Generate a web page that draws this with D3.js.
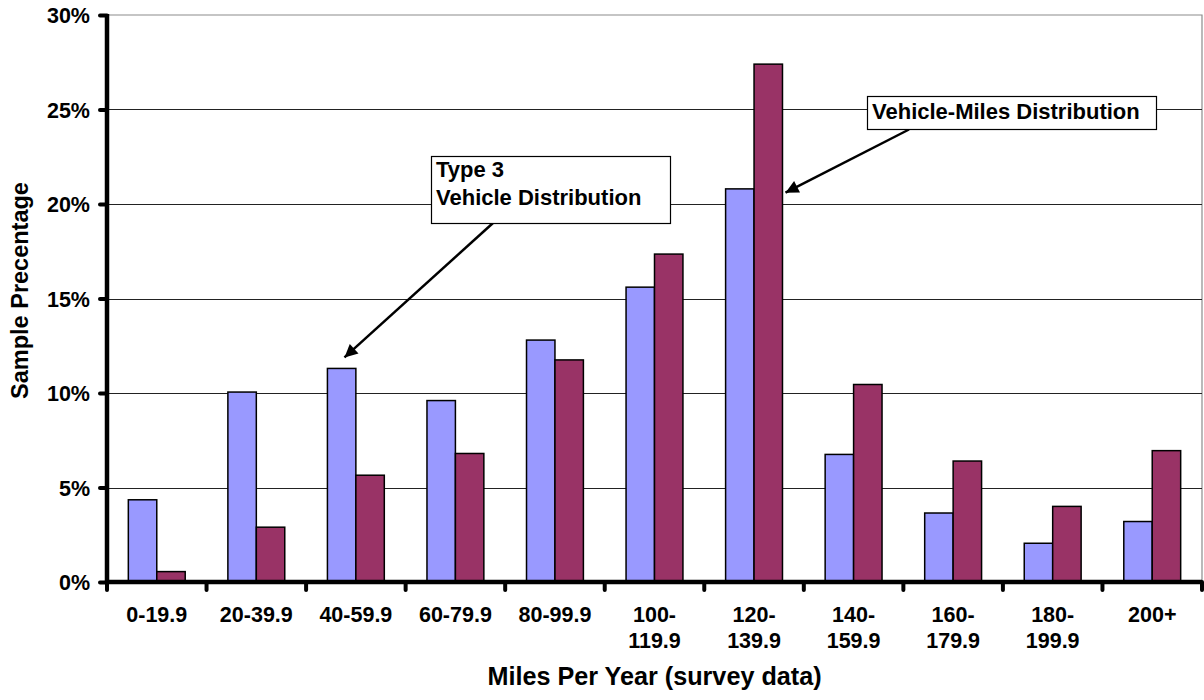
<!DOCTYPE html>
<html>
<head>
<meta charset="utf-8">
<script src="https://cdn.jsdelivr.net/npm/d3@7"></script>
<style>
  html, body { margin: 0; padding: 0; background: #fff; }
  svg { display: block; }
  text { font-family: "Liberation Sans", Arial, sans-serif; font-weight: bold; fill: #000; }
</style>
</head>
<body>
<svg id="chart" width="1204" height="700"></svg>
<script>
const categories = ["0-19.9", "20-39.9", "40-59.9", "60-79.9", "80-99.9", "100-\n119.9", "120-\n139.9", "140-\n159.9", "160-\n179.9", "180-\n199.9", "200+"];
const seriesNames = ["Type 3 Vehicle Distribution", "Vehicle-Miles Distribution"];
const vehicleDist = [4.35, 10.05, 11.3, 9.6, 12.8, 15.6, 20.8, 6.75, 3.65, 2.05, 3.2];
const vehicleMilesDist = [0.55, 2.9, 5.65, 6.8, 11.75, 17.35, 27.4, 10.45, 6.4, 4.0, 6.95];
const yTicks = [0, 5, 10, 15, 20, 25, 30];
const colors = ["#9999FF", "#993366"];

(function () {
const svg = d3.select("#chart");
const pL = 107, pR = 1202, pT = 15, pB = 582;

const x = d3.scaleBand().domain(categories).range([pL, pR]).padding(0);
const groupW = x.bandwidth() / 3.5 * 2;
const x1 = d3.scaleBand().domain([0, 1]).range([(x.bandwidth() - groupW) / 2, (x.bandwidth() + groupW) / 2]).padding(0);
const y = d3.scaleLinear().domain([0, 30]).range([pB, pT]);

// plot border (top & right)
svg.append("path")
  .attr("d", `M${pL},${pT}H${pR}V${pB}`)
  .attr("fill", "none").attr("stroke", "#8c8c8c").attr("stroke-width", 1.2);

// gridlines
svg.append("g").selectAll("line")
  .data(yTicks.filter(d => d > 0 && d < 30))
  .join("line")
  .attr("x1", pL).attr("x2", pR)
  .attr("y1", d => Math.round(y(d)) + 0.5).attr("y2", d => Math.round(y(d)) + 0.5)
  .attr("stroke", "#222").attr("stroke-width", 1);

// bars
const data = categories.map((c, i) => ({ c, vals: [vehicleDist[i], vehicleMilesDist[i]] }));
const groups = svg.append("g").selectAll("g").data(data).join("g")
  .attr("transform", d => `translate(${x(d.c)},0)`);
groups.selectAll("rect").data(d => d.vals.map((v, k) => ({ v, k })))
  .join("rect")
  .attr("x", d => x1(d.k))
  .attr("width", x1.bandwidth())
  .attr("y", d => y(d.v))
  .attr("height", d => y(0) - y(d.v))
  .attr("fill", d => colors[d.k])
  .attr("stroke", "#000").attr("stroke-width", 1.5);

// y axis
const yAxis = d3.axisLeft(y).tickValues(yTicks).tickFormat(d => d + "%").tickSize(7).tickPadding(10);
const gy = svg.append("g").attr("transform", `translate(${pL},0)`).call(yAxis);
gy.select(".domain").attr("stroke", "#000").attr("stroke-width", 4.5).attr("d", `M0,${pT - 1}V${pB + 2}`);
gy.selectAll(".tick line").attr("stroke", "#000").attr("stroke-width", 4).attr("stroke-linecap", "round");
gy.selectAll(".tick text").style("font-size", "21.5px").attr("dy", "0.36em");

// x axis: labels
const xAxis = d3.axisBottom(x).tickSize(0).tickPadding(0).tickFormat("");
const gx = svg.append("g").attr("transform", `translate(0,${pB})`).call(xAxis);
gx.select(".domain").attr("stroke", "#000").attr("stroke-width", 4.5).attr("d", `M${pL - 2},0H${pR}`);
gx.selectAll(".tick").each(function (d) {
  const t = d3.select(this).append("text").attr("text-anchor", "middle").style("font-size", "21.5px");
  d.split("\n").forEach((line, i) => {
    t.append("tspan").attr("x", 0).attr("y", 40 + i * 26).text(line);
  });
});
// x axis boundary ticks
const bounds = categories.map(c => x(c)).concat([x(categories[categories.length - 1]) + x.bandwidth()]);
gx.append("g").selectAll("line").data(bounds).join("line")
  .attr("x1", d => d).attr("x2", d => d).attr("y1", 0).attr("y2", 8)
  .attr("stroke", "#000").attr("stroke-width", 4).attr("stroke-linecap", "round");

// axis titles
svg.append("text").attr("x", (pL + pR) / 2).attr("y", 685)
  .attr("text-anchor", "middle").style("font-size", "25.2px")
  .text("Miles Per Year (survey data)");
svg.append("text").attr("transform", `translate(28,${(pT + pB) / 2 - 8}) rotate(-90)`)
  .attr("text-anchor", "middle").style("font-size", "23.5px")
  .text("Sample Precentage");

// arrow marker
svg.append("defs").append("marker")
  .attr("id", "arrow").attr("viewBox", "0 0 10 10").attr("refX", 10).attr("refY", 5)
  .attr("markerWidth", 16).attr("markerHeight", 13).attr("markerUnits", "userSpaceOnUse")
  .attr("orient", "auto")
  .append("path").attr("d", "M0,0L10,5L0,10z").attr("fill", "#000");

// annotation 1: Type 3 Vehicle Distribution -> 40-59.9 blue bar
const a1 = { cat: 2, k: 0 };
const tip1x = x(categories[a1.cat]) + x1(a1.k) + x1.bandwidth() * 0.6;
const tip1y = y(vehicleDist[a1.cat]) - 11;
svg.append("line").attr("x1", 493).attr("y1", 223).attr("x2", tip1x).attr("y2", tip1y)
  .attr("stroke", "#000").attr("stroke-width", 2.5).attr("marker-end", "url(#arrow)");
svg.append("rect").attr("x", 431.5).attr("y", 156.5).attr("width", 239).attr("height", 67)
  .attr("fill", "#fff").attr("stroke", "#000").attr("stroke-width", 1.2);
const t1 = svg.append("text").style("font-size", "22px");
t1.append("tspan").attr("x", 436).attr("y", 177).text("Type 3");
t1.append("tspan").attr("x", 436).attr("y", 205).text("Vehicle Distribution");

// annotation 2: Vehicle-Miles Distribution -> 120-139.9 purple bar
const a2 = { cat: 6, k: 1 };
const tip2x = x(categories[a2.cat]) + x1(a2.k) + x1.bandwidth() + 3;
const tip2y = y(20.6);
svg.append("line").attr("x1", 909).attr("y1", 129.5).attr("x2", tip2x).attr("y2", tip2y)
  .attr("stroke", "#000").attr("stroke-width", 2.5).attr("marker-end", "url(#arrow)");
svg.append("rect").attr("x", 867.5).attr("y", 96.5).attr("width", 289).attr("height", 33)
  .attr("fill", "#fff").attr("stroke", "#000").attr("stroke-width", 1.2);
svg.append("text").attr("x", 872).attr("y", 119).style("font-size", "22px").text("Vehicle-Miles Distribution");
})();
</script>
</body>
</html>
